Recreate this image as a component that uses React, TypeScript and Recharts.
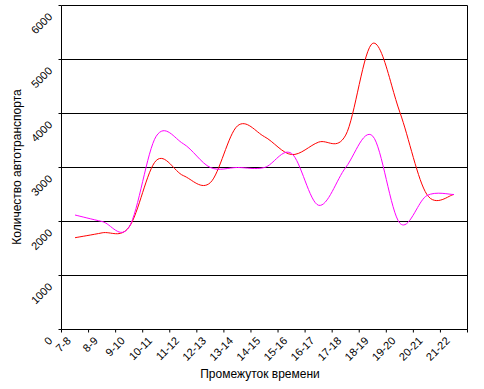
import { LineChart, Line, XAxis, YAxis, CartesianGrid } from 'recharts'

const periods = ['7-8', '8-9', '9-10', '10-11', '11-12', '12-13', '13-14', '14-15', '15-16', '16-17', '17-18', '18-19', '19-20', '20-21', '21-22']
const redSeries = [1700, 1790, 1900, 3130, 2850, 2720, 3770, 3570, 3240, 3470, 3600, 5300, 4025, 2500, 2500]
const magentaSeries = [2120, 2000, 1900, 3580, 3440, 3000, 3000, 3000, 3260, 2300, 3000, 3580, 1970, 2480, 2500]
const yTicks = [0, 1000, 2000, 3000, 4000, 5000, 6000]

const data = periods.map((p, i) => ({ period: p, s1: redSeries[i], s2: magentaSeries[i] }))

const W = 484
const H = 389
const LEFT = 61.5
const RIGHT = 16.5
const band = (W - LEFT - RIGHT) / periods.length
const font = "'Liberation Sans', Arial, sans-serif"

// Excel-like smoothing (Catmull-Rom through the points)
const excelSmooth = (context: any) => {
  let pts: [number, number][] = []
  return {
    areaStart() {},
    areaEnd() {},
    lineStart() { pts = [] },
    point(x: number, y: number) { pts.push([+x, +y]) },
    lineEnd() {
      if (!pts.length) return
      context.moveTo(pts[0][0], pts[0][1])
      for (let i = 0; i < pts.length - 1; i++) {
        const p0 = pts[i - 1] || pts[i]
        const p1 = pts[i]
        const p2 = pts[i + 1]
        const p3 = pts[i + 2] || p2
        context.bezierCurveTo(
          p1[0] + (p2[0] - p0[0]) / 6, p1[1] + (p2[1] - p0[1]) / 6,
          p2[0] - (p3[0] - p1[0]) / 6, p2[1] - (p3[1] - p1[1]) / 6,
          p2[0], p2[1]
        )
      }
    },
  }
}

const YTick = ({ x, y, payload }: any) => {
  const ax = x - 5.5
  const ay = y + 12
  return (
    <text x={ax} y={ay} transform={`rotate(-45 ${ax} ${ay})`} textAnchor="end" fontSize={11} fontFamily={font} fill="#000">
      {payload.value}
    </text>
  )
}

const XTick = ({ x, y, payload, index }: any) => {
  const ax = x - 3.5
  const ay = y + 12
  return (
    <g>
      <line x1={x - band / 2} x2={x - band / 2} y1={y} y2={y + 3} stroke="#000" />
      {index === periods.length - 1 && <line x1={x + band / 2} x2={x + band / 2} y1={y} y2={y + 3} stroke="#000" />}
      <text x={ax} y={ay} transform={`rotate(-45 ${ax} ${ay})`} textAnchor="end" fontSize={11} fontFamily={font} fill="#000">
        {payload.value}
      </text>
    </g>
  )
}

export default function App() {
  return (
    <div style={{ position: 'absolute', left: 0, top: 0, width: W, height: H, background: '#fff' }}>
      <LineChart width={W} height={H} data={data} margin={{ top: 5.5, right: 0, left: 0, bottom: 0 }}>
        <CartesianGrid vertical={false} stroke="#000" />
        <XAxis
          dataKey="period"
          scale="band"
          interval={0}
          height={59.5}
          tickSize={0}
          tickMargin={0}
          tickLine={false}
          axisLine={{ stroke: '#000' }}
          tick={<XTick />}
          label={{
            content: () => (
              <text x={260} y={378} textAnchor="middle" fontSize={12} fontFamily={font} fill="#000">
                Промежуток времени
              </text>
            ),
          }}
        />
        <YAxis
          width={LEFT}
          domain={[0, 6000]}
          ticks={yTicks}
          interval={0}
          tickSize={3}
          tickMargin={0}
          tickLine={{ stroke: '#000' }}
          axisLine={{ stroke: '#000' }}
          tick={<YTick />}
          label={{
            content: () => (
              <text x={21} y={167} transform="rotate(-90 21 167)" textAnchor="middle" fontSize={12} fontFamily={font} fill="#000">
                Количество автотранспорта
              </text>
            ),
          }}
        />
        <YAxis yAxisId="right" orientation="right" width={RIGHT} domain={[0, 6000]} tick={false} tickLine={false} axisLine={{ stroke: '#000' }} />
        <Line dataKey="s1" name="Ряд1" type={excelSmooth as any} stroke="#ff0000" strokeWidth={1} dot={false} activeDot={false} isAnimationActive={false} />
        <Line dataKey="s2" name="Ряд2" type={excelSmooth as any} stroke="#ff00ff" strokeWidth={1} dot={false} activeDot={false} isAnimationActive={false} />
      </LineChart>
    </div>
  )
}
